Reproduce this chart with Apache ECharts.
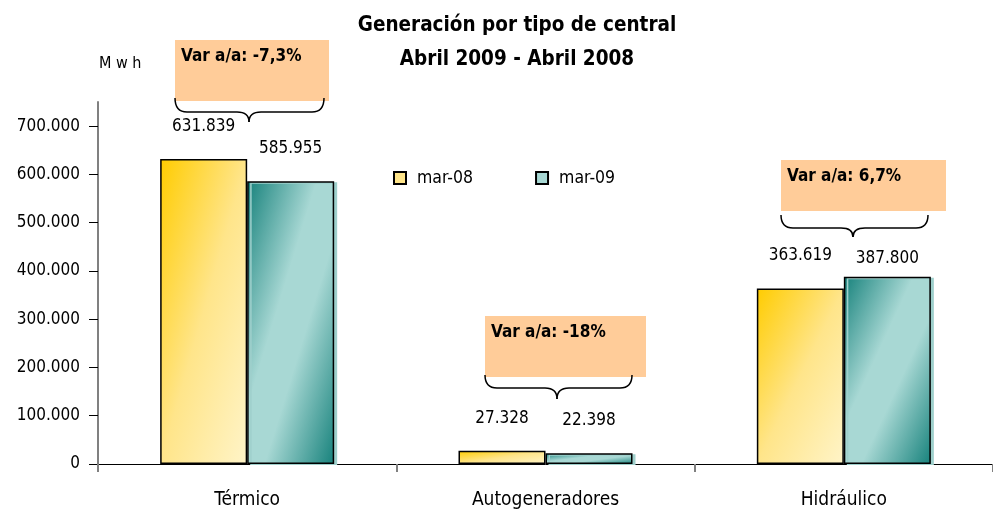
<!DOCTYPE html>
<html>
<head>
<meta charset="utf-8">
<script src="https://cdn.jsdelivr.net/npm/echarts@6/dist/echarts.min.js"></script>
<style>html,body{margin:0;padding:0;background:#fff}#c{width:993px;height:512px}</style>
</head>
<body>
<div id="c"></div>
<script>
const categories = ['Térmico', 'Autogeneradores', 'Hidráulico'];
const seriesNames = ['mar-08', 'mar-09'];
const values08 = [631839, 27328, 363619];
const values09 = [585955, 22398, 387800];
const yTicks = [0, 100000, 200000, 300000, 400000, 500000, 600000, 700000];
const varLabels = ['Var a/a: -7,3%', 'Var a/a: -18%', 'Var a/a: 6,7%'];

const FONT = "'Liberation Sans Narrow', 'DejaVu Sans Condensed', 'Liberation Sans', sans-serif";
const fmt = v => String(v).replace(/\B(?=(\d{3})+(?!\d))/g, '.');

const BAR_W = 87;
const yellowStops = [{offset:0, color:'#FFCC00'}, {offset:0.5, color:'#FFE58A'}, {offset:1, color:'#FFF4C8'}];
const tealStops = [{offset:0, color:'#17827C'}, {offset:0.4, color:'#A8D8D4'}, {offset:0.6, color:'#A8D8D4'}, {offset:1, color:'#17827C'}];

// diagonal gradient whose iso-lines run corner to corner of the bar box
function diagGrad(stops, w, h) {
  h = Math.max(h, 1);
  const c = 2 / (1/(w*w) + 1/(h*h));
  return {type:'linear', x:0, y:0, x2:c/(w*w), y2:c/(h*h), colorStops:stops};
}

const chart = echarts.init(document.getElementById('c'), null, {renderer:'canvas'});

const braceStyle = {stroke:'#000', lineWidth:1.5, fill:'none'};
function brace(x0, x1, xm, yTop, yLine, yTip) {
  const r = 12;
  const els = [
    {type:'bezierCurve', shape:{x1:x0, y1:yTop, cpx1:x0, cpy1:yLine, x2:x0+r, y2:yLine}},
    {type:'line', shape:{x1:x0+r, y1:yLine, x2:xm-r, y2:yLine}},
    {type:'bezierCurve', shape:{x1:xm-r, y1:yLine, cpx1:xm, cpy1:yLine, x2:xm, y2:yTip}},
    {type:'bezierCurve', shape:{x1:xm, y1:yTip, cpx1:xm, cpy1:yLine, x2:xm+r, y2:yLine}},
    {type:'line', shape:{x1:xm+r, y1:yLine, x2:x1-r, y2:yLine}},
    {type:'bezierCurve', shape:{x1:x1-r, y1:yLine, cpx1:x1, cpy1:yLine, x2:x1, y2:yTop}}
  ];
  els.forEach(e => { e.style = braceStyle; e.z = 2; });
  return els;
}

// annotation boxes (layout)
const boxes = [
  {x:175, y:40, w:154, h:61, bx0:175, bx1:324, bxm:249, byTop:98, byLine:112, byTip:122},
  {x:485, y:316, w:161, h:61, bx0:485, bx1:632, bxm:557, byTop:375, byLine:388, byTip:399},
  {x:781, y:160, w:165, h:51, bx0:781, bx1:928, bxm:853, byTop:215, byLine:228, byTip:237}
];
const graphics = [];
boxes.forEach((b, i) => {
  graphics.push({type:'rect', shape:{x:b.x, y:b.y, width:b.w, height:b.h}, style:{fill:'#FFCC99'}, z:1});
  graphics.push({type:'text', x:b.x+6, y:b.y+8, style:{text:varLabels[i], font:`bold 17px ${FONT}`, fill:'#000'}, z:2});
  brace(b.bx0, b.bx1, b.bxm, b.byTop, b.byLine, b.byTip).forEach(e => graphics.push(e));
});
graphics.push({type:'text', x:99, y:56, style:{text:'M w h', font:`16px ${FONT}`, fill:'#000'}});

const labelNudge = [[0,0,0],[0,0,14]];
const allValues = [values08, values09];
const stopsFor = [yellowStops, tealStops];

function buildSeries(heightOf) {
  return allValues.map((vals, si) => ({
    type:'bar', name:seriesNames[si],
    data:vals.map((v, i) => ({
      value:v,
      label:{offset:[0, labelNudge[si][i]]},
      itemStyle:{color: diagGrad(stopsFor[si], BAR_W, heightOf(v))}
    })),
    barWidth:BAR_W, barGap:'0%',
    itemStyle: si === 0
      ? {color: stopsFor[si][1].color, borderColor:'#000', borderWidth:1.5}
      : {color: stopsFor[si][1].color, borderColor:'#000', borderWidth:1.5,
         shadowColor:'#9fd0cc', shadowOffsetX:3, shadowOffsetY:1, shadowBlur:0},
    label:{show:true, position:'top', distance:24, formatter:p => fmt(p.value), fontFamily:FONT, fontSize:17, color:'#000'}
  }));
}

chart.setOption({
  animation:false,
  textStyle:{fontFamily:FONT},
  title:{
    text:'Generación por tipo de central\nAbril 2009 - Abril 2008',
    left:512, textAlign:'center', top:4,
    textStyle:{fontFamily:FONT, fontSize:20.5, fontWeight:'bold', color:'#000', lineHeight:34}
  },
  legend:{
    data:seriesNames, left:388, top:164, itemWidth:12, itemHeight:12, itemGap:62,
    icon:'rect', textStyle:{fontFamily:FONT, fontSize:17.5, color:'#000', padding:[0,0,0,6]}
  },
  grid:{left:98, top:102, width:903, bottom:48},
  xAxis:{
    type:'category', data:categories,
    axisLine:{lineStyle:{color:'#000', width:1}},
    axisTick:{show:true, length:8, lineStyle:{color:'#808080', width:2}},
    axisLabel:{fontFamily:FONT, fontSize:19, color:'#000', margin:27}
  },
  yAxis:{
    type:'value', min:0, max:750000,
    splitLine:{show:false},
    axisLine:{show:true, lineStyle:{color:'#808080', width:2}},
    axisTick:{show:true, length:9, customValues:yTicks, lineStyle:{color:'#000', width:1}},
    axisLabel:{customValues:yTicks, formatter:fmt, fontFamily:FONT, fontSize:17, color:'#000', margin:18}
  },
  series:buildSeries(() => 100),
  graphic:graphics
});

const y0 = chart.convertToPixel({yAxisIndex:0}, 0);
chart.setOption({series:buildSeries(v => y0 - chart.convertToPixel({yAxisIndex:0}, v))});
</script>
</body>
</html>
